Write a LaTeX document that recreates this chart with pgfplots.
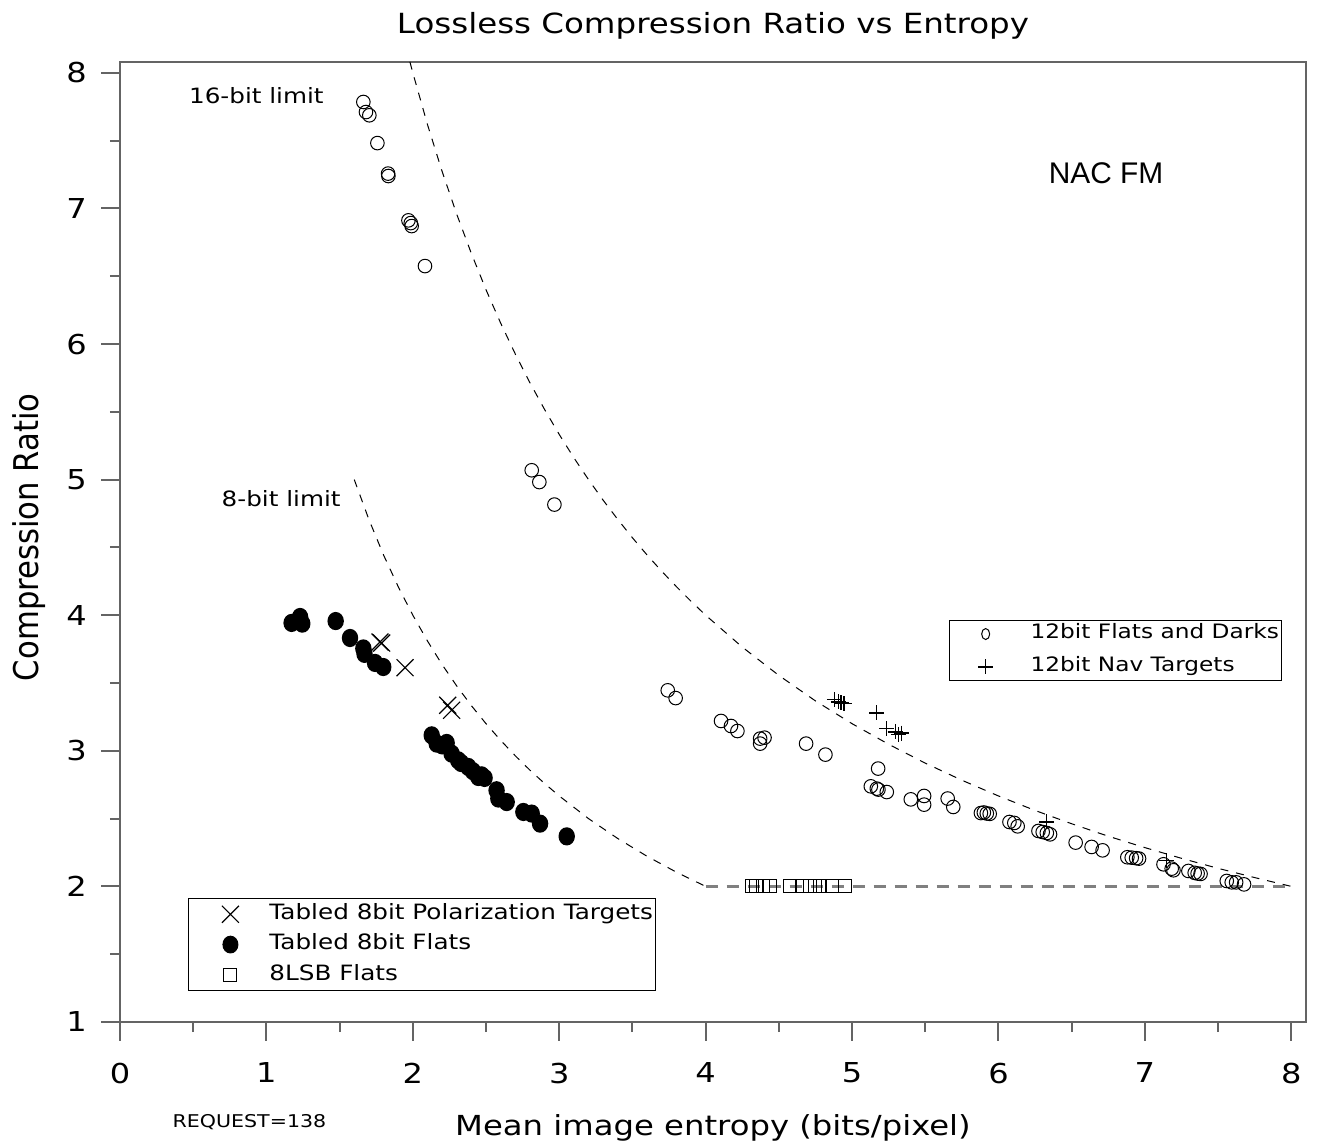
\documentclass[border=0pt]{standalone}
\usepackage{pgfplots}
\pgfplotsset{compat=1.18}
\usepackage{fontspec}
\setmainfont{DejaVu Sans}[FakeStretch=1.17]
\newfontfamily\ylabfont{DejaVu Sans}[FakeStretch=0.9]
\newfontfamily\arialfont{Liberation Sans}
\definecolor{axgray}{RGB}{100,100,100}
\definecolor{dashgray}{RGB}{128,128,128}
\pgfplotsset{
  legL/.style={legend image code/.code={\path[draw=none,fill=none] (0mm,0mm) -- (7.8mm,0mm);\draw[##1] plot coordinates {(3.9mm,0mm)};}},
  legR/.style={legend image code/.code={\path[draw=none,fill=none] (0mm,0mm) -- (7.8mm,0mm);\draw[##1] plot coordinates {(3.3mm,0mm)};}},
}
\begin{document}
\begin{tikzpicture}
\begin{axis}[
  scale only axis, width=118.6mm, height=96mm,
  xmin=0, xmax=8.1, ymin=1, ymax=8.08,
  clip=false,
  axis line style={axgray, line width=0.2mm},
  xtick={0,1,2,3,4,5,6,7,8}, ytick={1,2,3,4,5,6,7,8},
  minor x tick num=1, minor y tick num=1,
  tick align=outside,
  major tick length=1.85mm, minor tick length=1.0mm,
  every tick/.style={axgray, line width=0.2mm},
  xtick pos=bottom, ytick pos=left,
  /pgf/number format/assume math mode=true,
  tick label style={font=\fontsize{7.8}{9}\selectfont, inner sep=0pt},
  xticklabel style={anchor=north, yshift=-2.15mm},
  yticklabel style={anchor=east, xshift=-1.4mm},
  every axis title/.style={at={(axis description cs:0.5,1.0302)}, anchor=base, font=\fontsize{7.9}{9}\selectfont},
  title={Lossless Compression Ratio vs Entropy},
  every axis x label/.style={at={(axis description cs:0.5,-0.1177)}, anchor=base, font=\fontsize{7.85}{9}\selectfont},
  xlabel={Mean image entropy (bits/pixel)},
  every axis y label/.style={at={(axis description cs:-0.0683,0.505)}, anchor=base, rotate=90, font=\ylabfont\fontsize{9.7}{11}\selectfont},
  ylabel={Compression Ratio},
  legend cell align=left,
  legend style={at={(axis cs:0.464,1.912)}, anchor=north west, draw=black, line width=0.1mm, inner xsep=0.3mm, inner ysep=0.48mm, row sep=0.9mm, font=\fontsize{6}{7}\selectfont, nodes={inner sep=0pt}},
]
% 16-bit limit
\addplot[black, line width=0.1mm, dash pattern=on 0.8mm off 0.8mm, forget plot] coordinates {
(1.98,8.081) (2.0,8.0) (2.1,7.619) (2.2,7.273) (2.3,6.957) (2.4,6.667) (2.5,6.4) (2.6,6.154) (2.7,5.926) (2.8,5.714) (2.9,5.517) (3.0,5.333) (3.1,5.161) (3.2,5.0) (3.3,4.848) (3.4,4.706) (3.5,4.571) (3.6,4.444) (3.7,4.324) (3.8,4.211) (3.9,4.103) (4.0,4.0) (4.25,3.765) (4.5,3.556) (4.75,3.368) (5.0,3.2) (5.25,3.048) (5.5,2.909) (5.75,2.783) (6.0,2.667) (6.25,2.56) (6.5,2.462) (6.75,2.37) (7.0,2.286) (7.25,2.207) (7.5,2.133) (7.75,2.065) (8.0,2.0)};
% 8-bit limit
\addplot[black, line width=0.1mm, dash pattern=on 0.8mm off 0.8mm, forget plot] coordinates {
(1.6,5.0) (1.7,4.706) (1.8,4.444) (1.9,4.211) (2.0,4.0) (2.1,3.810) (2.2,3.636) (2.3,3.478) (2.4,3.333) (2.5,3.2) (2.6,3.077) (2.7,2.963) (2.8,2.857) (2.9,2.759) (3.0,2.667) (3.2,2.5) (3.4,2.353) (3.6,2.222) (3.8,2.105) (4.0,2.0)};
\addplot[dashgray, line width=0.22mm, dash pattern=on 1.2mm off 0.9mm, forget plot] coordinates {(4.0,2.0) (8.0,2.0)};
% 12bit flats and darks
\addplot[only marks, mark=o, mark size=0.68mm, mark options={line width=0.1mm}, black, forget plot] coordinates {
(1.662,7.785) (1.680,7.711) (1.703,7.687) (1.758,7.482) (1.831,7.257) (1.833,7.239) (1.970,6.912) (1.986,6.892) (1.992,6.870) (2.083,6.575) (2.812,5.069) (2.864,4.982) (2.967,4.816) (3.741,3.446) (3.795,3.389) (4.105,3.220) (4.173,3.183) (4.217,3.146) (4.372,3.090) (4.402,3.097) (4.372,3.053) (4.686,3.053) (4.818,2.972) (5.178,2.869) (5.128,2.738) (5.169,2.721) (5.180,2.714) (5.237,2.696) (5.401,2.642) (5.492,2.667) (5.492,2.603) (5.653,2.648) (5.691,2.586) (5.88,2.541) (5.90,2.545) (5.92,2.538) (5.94,2.535) (6.075,2.475) (6.108,2.468) (6.131,2.443) (6.273,2.409) (6.302,2.401) (6.330,2.394) (6.352,2.384) (6.527,2.323) (6.636,2.291) (6.711,2.266) (6.88,2.215) (6.91,2.212) (6.94,2.208) (6.96,2.205) (7.127,2.163) (7.183,2.131) (7.195,2.119) (7.297,2.114) (7.34,2.100) (7.36,2.095) (7.38,2.092) (7.559,2.040) (7.593,2.030) (7.623,2.030) (7.677,2.015)};
% 12bit nav targets
\addplot[only marks, mark=+, mark size=0.75mm, mark options={line width=0.12mm}, black, forget plot] coordinates {
(4.879,3.378) (4.906,3.360) (4.925,3.353) (4.945,3.348) (5.168,3.279) (5.237,3.164) (5.294,3.139) (5.317,3.122) (5.340,3.131) (6.330,2.475) (7.149,2.190)};
% polarization targets
\addplot[only marks, mark=x, mark size=1.2mm, mark options={line width=0.12mm}, black, legL] coordinates {
(1.776,3.802) (1.787,3.795) (1.947,3.613) (2.238,3.336) (2.265,3.299)};
\addlegendentry{Tabled 8bit Polarization Targets}
% tabled 8bit flats
\addplot[only marks, mark=*, mark size=0.75mm, mark options={yscale=1.12, fill=black, draw=black}, black, legL] coordinates {
(1.172,3.943) (1.230,3.987) (1.245,3.938) (1.473,3.957) (1.571,3.832) (1.662,3.755) (1.670,3.715) (1.742,3.648) (1.798,3.618) (2.129,3.114) (2.163,3.053) (2.20,3.04) (2.231,3.058) (2.265,2.979) (2.310,2.930) (2.33,2.91) (2.379,2.881) (2.41,2.85) (2.447,2.807) (2.470,2.819) (2.49,2.80) (2.572,2.709) (2.584,2.648) (2.641,2.622) (2.755,2.549) (2.812,2.537) (2.869,2.463) (3.051,2.369)};
\addlegendentry{Tabled 8bit Flats}
% 8LSB flats
\addplot[only marks, mark=square, mark size=0.65mm, mark options={line width=0.1mm}, black, legL] coordinates {
(4.318,2.0) (4.346,2.0) (4.392,2.0) (4.442,2.0) (4.574,2.0) (4.661,2.0) (4.716,2.0) (4.745,2.0) (4.779,2.0) (4.863,2.0) (4.950,2.0)};
\addlegendentry{8LSB Flats}
\node[anchor=base west, inner sep=0pt, font=\fontsize{6}{7}\selectfont] at (axis cs:0.467,7.773) {16-bit limit};
\node[anchor=base west, inner sep=0pt, font=\fontsize{6}{7}\selectfont] at (axis cs:0.69,4.80) {8-bit limit};
\node[anchor=base west, inner sep=0pt, font=\arialfont\fontsize{8.5}{10}\selectfont] at (axis cs:6.339,7.183) {NAC FM};
\node[anchor=base west, inner sep=0pt, font=\fontsize{5}{6}\selectfont] at (axis cs:0.355,0.2235) {REQUEST=138};
\end{axis}
\begin{axis}[scale only axis, width=118.6mm, height=96mm, xmin=0, xmax=8.1, ymin=1, ymax=8.08, hide axis,
  legend cell align=left,
  legend style={at={(axis cs:5.663,3.962)}, anchor=north west, draw=black, line width=0.1mm, inner xsep=0.3mm, inner ysep=0.3mm, row sep=1.25mm, font=\fontsize{5.65}{7}\selectfont, nodes={inner sep=0pt}},
]
\addlegendimage{only marks, mark=o, mark size=0.5mm, mark options={line width=0.1mm, xscale=0.8, yscale=1.1}, black, legR}
\addlegendentry{12bit Flats and Darks}
\addlegendimage{only marks, mark=+, mark size=0.75mm, mark options={line width=0.12mm}, black, legR}
\addlegendentry{12bit Nav Targets}
\end{axis}
\pgfresetboundingbox
\path[use as bounding box] (-12mm,-12.3mm) rectangle (119.8mm,102.2mm);
\end{tikzpicture}
\end{document}
